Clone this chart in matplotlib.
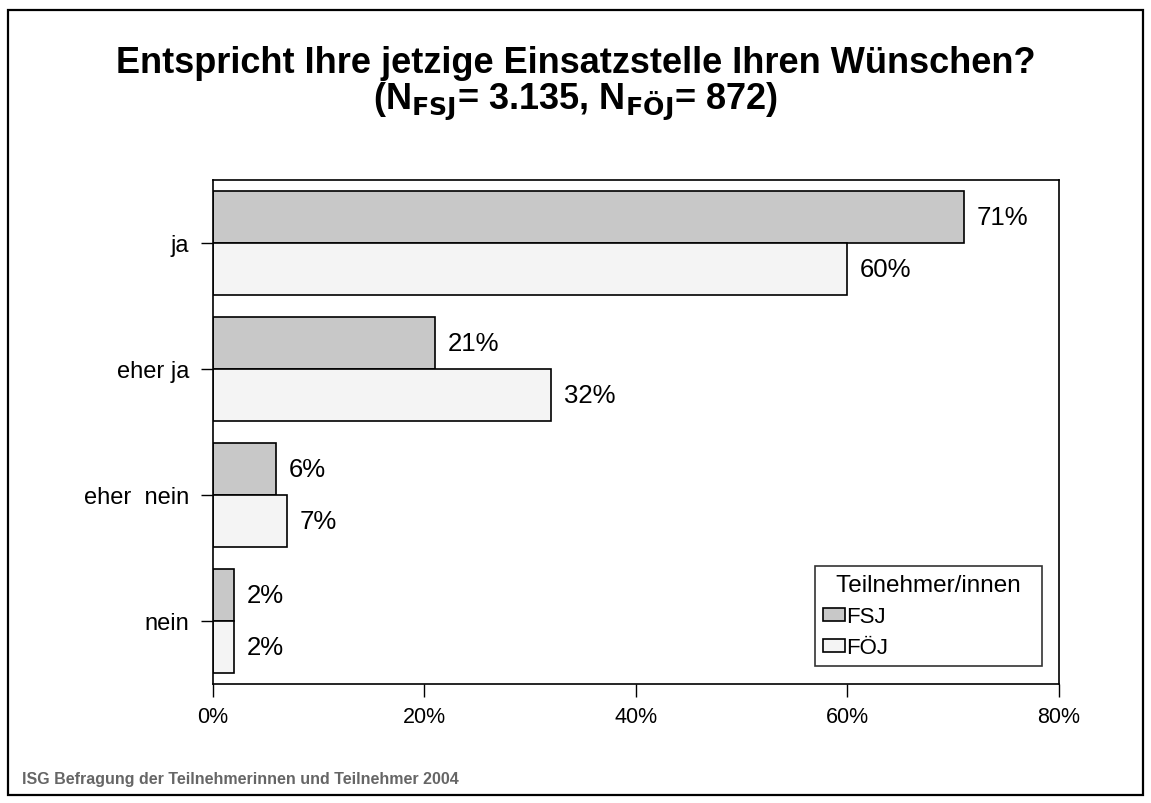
import matplotlib.pyplot as plt
from matplotlib.patches import Rectangle
import numpy as np

plt.rcParams['font.family'] = ['Liberation Sans', 'DejaVu Sans']

categories = ['ja', 'eher ja', 'eher  nein', 'nein']
fsj = [71, 21, 6, 2]
foej = [60, 32, 7, 2]
series_names = ['FSJ', 'FÖJ']
xticks = [0, 20, 40, 60, 80]


def main():
    fig = plt.figure(figsize=(11.51, 8.04), dpi=100)
    ax = fig.add_axes([0.185, 0.148, 0.735, 0.627])

    y = np.arange(len(categories))
    h = 0.415
    ax.barh(y - h / 2, fsj, height=h, color='#c8c8c8', edgecolor='black', linewidth=1.2, label=series_names[0])
    ax.barh(y + h / 2, foej, height=h, color='#f4f4f4', edgecolor='black', linewidth=1.2, label=series_names[1])

    for i in range(len(categories)):
        ax.text(fsj[i] + 1.2, y[i] - h / 2, '%d%%' % fsj[i], va='center', ha='left', fontsize=18.5)
        ax.text(foej[i] + 1.2, y[i] + h / 2, '%d%%' % foej[i], va='center', ha='left', fontsize=18.5)

    ax.set_xlim(0, 80)
    ax.set_ylim(3.5, -0.5)
    ax.set_xticks(xticks)
    ax.set_xticklabels(['%d%%' % v for v in xticks], fontsize=15.5)
    ax.set_yticks(y)
    ax.set_yticklabels(categories, fontsize=17)
    ax.tick_params(axis='both', direction='out', length=9, width=1, color='black')
    ax.tick_params(axis='x', pad=7)
    ax.tick_params(axis='y', pad=8)
    for s in ax.spines.values():
        s.set_linewidth(1.2)

    # spaces around the title make the box wider like the original
    leg = ax.legend(title='  Teilnehmer/innen  ', loc='lower right', bbox_to_anchor=(0.98, 0.036),
                    fontsize=16, title_fontsize=17.5, frameon=True, fancybox=False,
                    edgecolor='black', handlelength=1.0, handleheight=0.55, handletextpad=0.05,
                    borderpad=0.35, labelspacing=0.45, borderaxespad=0)
    leg._legend_box.align = 'left'
    leg.get_frame().set_linewidth(1.2)

    fig.text(0.5, 0.921, 'Entspricht Ihre jetzige Einsatzstelle Ihren Wünschen?',
             ha='center', va='center', fontsize=26, fontweight='bold')
    fig.text(0.5, 0.873, r'(N$_{\mathbf{FSJ}}$= 3.135, N$_{\mathbf{FÖJ}}$= 872)',
             ha='center', va='center', fontsize=26, fontweight='bold')
    fig.text(0.019, 0.031, 'ISG Befragung der Teilnehmerinnen und Teilnehmer 2004',
             ha='left', va='center', fontsize=11.5, fontweight='bold', color='#666666')

    fig.patches.append(Rectangle((0.007, 0.01), 0.986, 0.976, transform=fig.transFigure,
                                 fill=False, edgecolor='black', linewidth=1.6))

    plt.savefig('out.png', dpi=100)


if __name__ == "__main__":
    main()
